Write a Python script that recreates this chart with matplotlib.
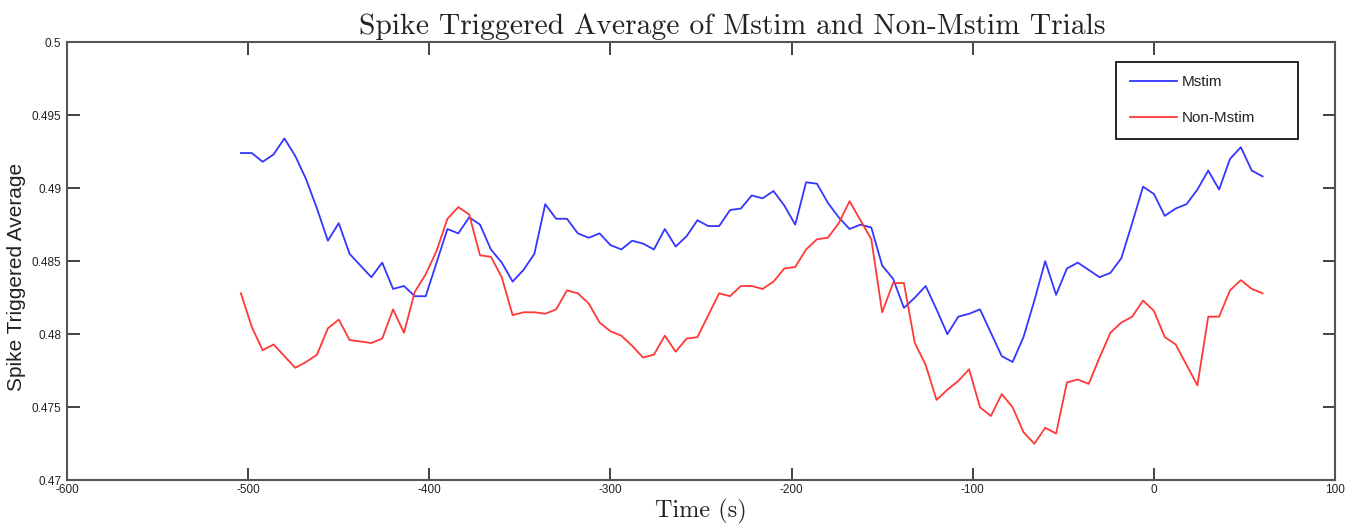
import numpy as np
import matplotlib
matplotlib.use("Agg")
import matplotlib.pyplot as plt

# ============================================================
# DATA
# ============================================================
# sample times, one every 6 s from -504 to 60
time_s = np.arange(-504, 61, 6)

mstim = [
    0.4924, 0.4924, 0.4918, 0.4923, 0.4934, 0.4922, 0.4906, 0.4886, 0.4864, 0.4876,
    0.4855, 0.4847, 0.4839, 0.4849, 0.4831, 0.4833, 0.4826, 0.4826, 0.4849, 0.4872,
    0.4869, 0.4880, 0.4875, 0.4858, 0.4849, 0.4836, 0.4844, 0.4855, 0.4889, 0.4879,
    0.4879, 0.4869, 0.4866, 0.4869, 0.4861, 0.4858, 0.4864, 0.4862, 0.4858, 0.4872,
    0.4860, 0.4867, 0.4878, 0.4874, 0.4874, 0.4885, 0.4886, 0.4895, 0.4893, 0.4898,
    0.4888, 0.4875, 0.4904, 0.4903, 0.4890, 0.4880, 0.4872, 0.4875, 0.4873, 0.4847,
    0.4838, 0.4818, 0.4825, 0.4833, 0.4817, 0.4800, 0.4812, 0.4814, 0.4817, 0.4801,
    0.4785, 0.4781, 0.4798, 0.4823, 0.4850, 0.4827, 0.4845, 0.4849, 0.4844, 0.4839,
    0.4842, 0.4852, 0.4876, 0.4901, 0.4896, 0.4881, 0.4886, 0.4889, 0.4899, 0.4912,
    0.4899, 0.4920, 0.4928, 0.4912, 0.4908,
]

non_mstim = [
    0.4828, 0.4805, 0.4789, 0.4793, 0.4785, 0.4777, 0.4781, 0.4786, 0.4804, 0.4810,
    0.4796, 0.4795, 0.4794, 0.4797, 0.4817, 0.4801, 0.4829, 0.4841, 0.4857, 0.4879,
    0.4887, 0.4882, 0.4854, 0.4853, 0.4839, 0.4813, 0.4815, 0.4815, 0.4814, 0.4817,
    0.4830, 0.4828, 0.4821, 0.4808, 0.4802, 0.4799, 0.4792, 0.4784, 0.4786, 0.4799,
    0.4788, 0.4797, 0.4798, 0.4813, 0.4828, 0.4826, 0.4833, 0.4833, 0.4831, 0.4836,
    0.4845, 0.4846, 0.4858, 0.4865, 0.4866, 0.4876, 0.4891, 0.4878, 0.4865, 0.4815,
    0.4835, 0.4835, 0.4794, 0.4779, 0.4755, 0.4762, 0.4768, 0.4776, 0.4750, 0.4744,
    0.4759, 0.4750, 0.4733, 0.4725, 0.4736, 0.4732, 0.4767, 0.4769, 0.4766, 0.4784,
    0.4801, 0.4808, 0.4812, 0.4823, 0.4816, 0.4798, 0.4793, 0.4779, 0.4765, 0.4812,
    0.4812, 0.4830, 0.4837, 0.4831, 0.4828,
]

x_ticks = [-600, -500, -400, -300, -200, -100, 0, 100]
y_ticks = [0.47, 0.475, 0.48, 0.485, 0.49, 0.495, 0.5]
y_tick_labels = ["0.47", "0.475", "0.48", "0.485", "0.49", "0.495", "0.5"]

# ============================================================
# PLOT
# ============================================================
SANS = ["Liberation Sans", "DejaVu Sans"]
SERIF = ["cmr10", "DejaVu Serif"]

fig = plt.figure(figsize=(13.51, 5.27), dpi=100)
ax = fig.add_axes([0.0496, 0.0886, 0.9386, 0.8317])

ax.plot(time_s, mstim, color="#3535ff", lw=1.3, label="Mstim")
ax.plot(time_s, non_mstim, color="#ff3838", lw=1.3, label="Non-Mstim")

ax.set_xlim(-600, 100)
ax.set_ylim(0.47, 0.5)
ax.set_xticks(x_ticks)
ax.set_xticklabels([str(t) for t in x_ticks], family=SANS, fontsize=8.5)
ax.set_yticks(y_ticks)
ax.set_yticklabels(y_tick_labels, family=SANS, fontsize=8.5)

ax.tick_params(direction="in", length=9, width=1.2, top=True, right=True,
               color="#222222", labelcolor="#222222")
ax.tick_params(axis="x", pad=3)
ax.tick_params(axis="y", pad=4)
for sp in ax.spines.values():
    sp.set_color("#555555")
    sp.set_linewidth(1.5)

# title sits a bit right of centre in the original
ax.set_title("Spike Triggered Average of Mstim and Non-Mstim Trials",
             family=SERIF, fontsize=21.3, pad=6, color="#222222", x=0.5245)
ax.set_xlabel("Time (s)", family=SERIF, fontsize=17.5, labelpad=2, color="#222222")
ax.set_ylabel("Spike Triggered Average", family=SANS, fontsize=15, color="#222222")
ax.yaxis.set_label_coords(-0.032, 0.465)

# --- legend stretched to the boxed width of the original ---
leg = ax.legend(loc="upper left", bbox_to_anchor=(0.8273, 0.70, 0.1435, 0.255),
                mode="expand", borderaxespad=0,
                prop={"family": SANS, "size": 11}, fancybox=False, framealpha=1,
                edgecolor="black", handlelength=3.1, handletextpad=0.3,
                labelspacing=1.4, borderpad=0.9)
leg.get_frame().set_linewidth(1.2)
for t in leg.get_texts():
    t.set_color("#222222")

fig.savefig("out.png", dpi=100)
